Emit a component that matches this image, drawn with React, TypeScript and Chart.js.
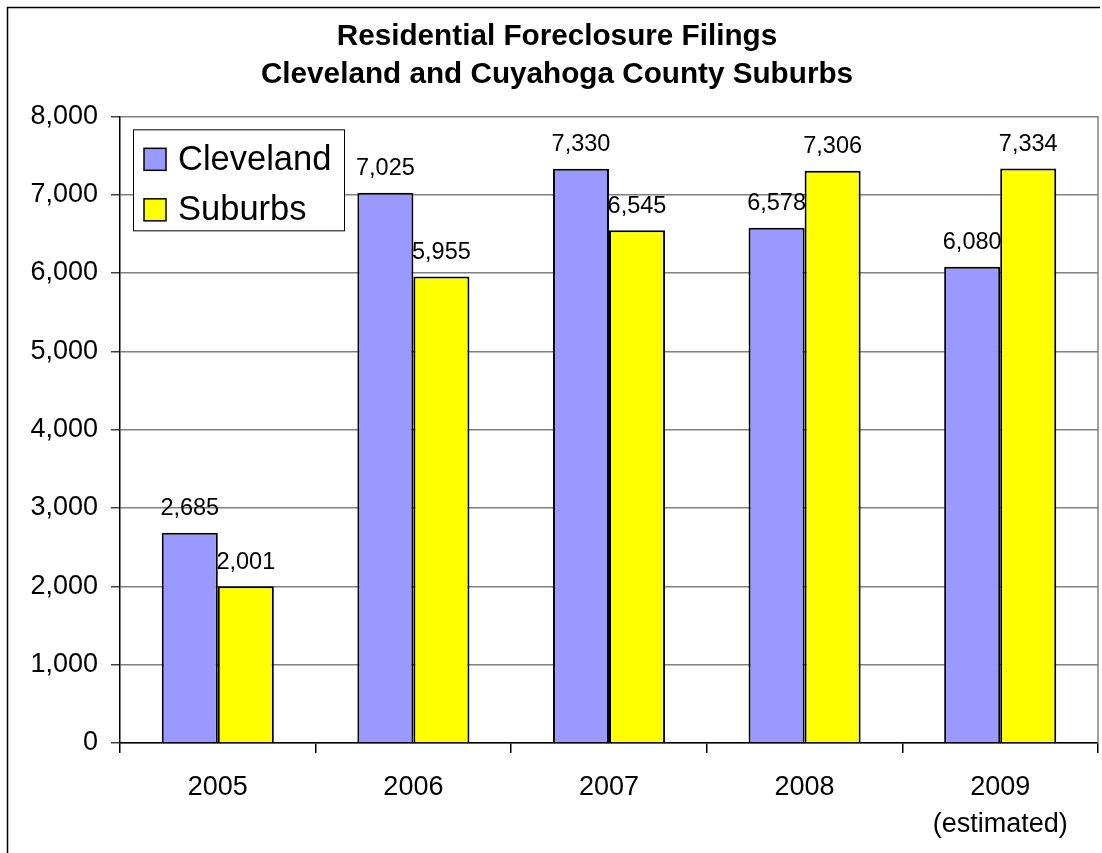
import React, { useEffect, useRef } from "react";
import { Chart, registerables } from "chart.js";

Chart.register(...registerables);

const categories: (string | string[])[] = ["2005", "2006", "2007", "2008", ["2009", "(estimated)"]];
const clevelandValues = [2685, 7025, 7330, 6578, 6080];
const suburbsValues = [2001, 5955, 6545, 7306, 7334];
const seriesLabels = ["Cleveland", "Suburbs"];
const titleLines = ["Residential Foreclosure Filings", "Cleveland and Cuyahoga County Suburbs"];

const FONT = "'Liberation Sans', Arial, sans-serif";

const fmt = (v: number) => v.toLocaleString("en-US");

const framePlugin = {
  id: "frame",
  beforeDraw(chart: any) {
    const ctx = chart.ctx;
    ctx.save();
    ctx.strokeStyle = "#000";
    ctx.lineWidth = 1.5;
    ctx.beginPath();
    ctx.moveTo(7.5, chart.height + 2);
    ctx.lineTo(7.5, 7.5);
    ctx.lineTo(chart.width - 2, 7.5);
    ctx.stroke();
    ctx.restore();
  },
  afterDraw(chart: any) {
    const { ctx, chartArea } = chart;
    ctx.save();
    ctx.strokeStyle = "#808080";
    ctx.lineWidth = 1.5;
    ctx.beginPath();
    ctx.moveTo(chartArea.right, chartArea.top);
    ctx.lineTo(chartArea.right, chartArea.bottom);
    ctx.stroke();
    ctx.restore();
  },
};

const dataLabelPlugin = {
  id: "dataLabels",
  afterDatasetsDraw(chart: any) {
    const ctx = chart.ctx;
    ctx.save();
    ctx.font = `23.5px ${FONT}`;
    ctx.fillStyle = "#000";
    ctx.textAlign = "center";
    ctx.textBaseline = "alphabetic";
    chart.data.datasets.forEach((ds: any, i: number) => {
      const meta = chart.getDatasetMeta(i);
      meta.data.forEach((el: any, j: number) => {
        ctx.fillText(fmt(ds.data[j]), el.x, el.y - 17.5);
      });
    });
    ctx.restore();
  },
};

const boxLegendPlugin = {
  id: "boxLegend",
  afterDraw(chart: any) {
    const ctx = chart.ctx;
    const left = chart.chartArea.left + 13;
    const top = chart.chartArea.top + 13;
    const w = 211;
    const h = 101;
    ctx.save();
    ctx.fillStyle = "#fff";
    ctx.fillRect(left, top, w, h);
    ctx.strokeStyle = "#000";
    ctx.lineWidth = 1;
    ctx.strokeRect(left + 0.5, top + 0.5, w, h);
    ctx.font = `34.5px ${FONT}`;
    ctx.textBaseline = "middle";
    ctx.textAlign = "left";
    chart.data.datasets.forEach((ds: any, i: number) => {
      const cy = top + 30 + i * 50.5;
      ctx.fillStyle = ds.backgroundColor;
      ctx.fillRect(left + 11, cy - 11, 22, 22);
      ctx.strokeStyle = "#000";
      ctx.lineWidth = 1.5;
      ctx.strokeRect(left + 11, cy - 11, 22, 22);
      ctx.fillStyle = "#000";
      ctx.fillText(ds.label, left + 45, cy + 1);
    });
    ctx.restore();
  },
};

export default function App() {
  const ref = useRef<HTMLCanvasElement | null>(null);

  useEffect(() => {
    if (!ref.current) return;
    const chart = new Chart(ref.current, {
      type: "bar",
      data: {
        labels: categories,
        datasets: [
          {
            label: seriesLabels[0],
            data: clevelandValues,
            backgroundColor: "#9999FF",
            borderColor: "#000",
            borderWidth: 2,
            barPercentage: 1,
            categoryPercentage: 0.573,
          },
          {
            label: seriesLabels[1],
            data: suburbsValues,
            backgroundColor: "#FFFF00",
            borderColor: "#000",
            borderWidth: 2,
            barPercentage: 1,
            categoryPercentage: 0.573,
          },
        ],
      },
      options: {
        animation: false,
        responsive: true,
        maintainAspectRatio: false,
        layout: { padding: { left: 16, right: 4, top: 0, bottom: 0 } },
        plugins: {
          legend: { display: false },
          tooltip: { enabled: false },
          title: {
            display: true,
            text: titleLines,
            color: "#000",
            font: { family: FONT, size: 29.7, weight: "bold", lineHeight: 1.29 },
            padding: { top: 17.5, bottom: 22.2 },
          },
        },
        scales: {
          x: {
            offset: true,
            grid: {
              display: true,
              offset: true,
              drawOnChartArea: false,
              drawTicks: true,
              tickLength: 10,
              color: "#000",
              lineWidth: 1.5,
            },
            border: { display: true, color: "#000", width: 1.5 },
            ticks: {
              color: "#000",
              font: { family: FONT, size: 27, lineHeight: 1.37 },
              padding: 16,
              maxRotation: 0,
              autoSkip: false,
            },
            afterFit: (scale: any) => {
              scale.height = 110;
            },
          },
          y: {
            min: 0,
            max: 8000,
            grid: {
              color: "#808080",
              lineWidth: 1.5,
              tickLength: 9,
              tickColor: "#404040",
            },
            border: { display: true, color: "#000", width: 1.5 },
            ticks: {
              stepSize: 1000,
              color: "#000",
              font: { family: FONT, size: 27 },
              padding: 13,
              callback: (v: any) => fmt(Number(v)),
            },
            afterFit: (scale: any) => {
              scale.width = 104;
            },
          },
        },
      },
      plugins: [framePlugin, dataLabelPlugin, boxLegendPlugin],
    });
    return () => chart.destroy();
  }, []);

  return (
    <div style={{ position: "absolute", left: 0, top: 0, width: 1102, height: 853, background: "#fff" }}>
      <canvas ref={ref} />
    </div>
  );
}
